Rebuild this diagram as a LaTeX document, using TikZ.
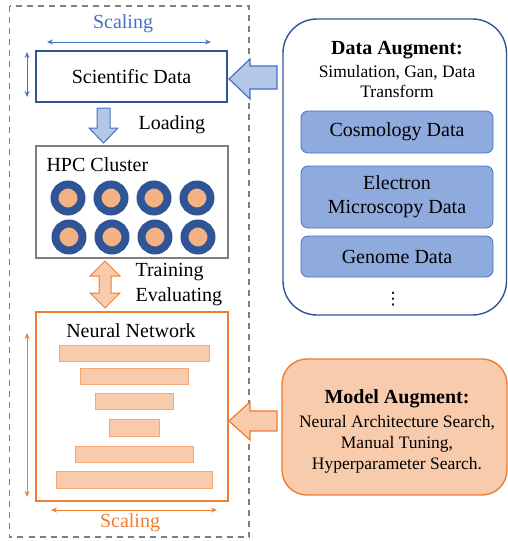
\documentclass[tikz,border=0pt]{standalone}
\usepackage{fontspec}
\setmainfont{Liberation Serif}
\newfontfamily\dvfont{DejaVu Sans}
\usetikzlibrary{arrows.meta}
\definecolor{dblue}{HTML}{2F5597}
\definecolor{mblue}{HTML}{4472C4}
\definecolor{lblue}{HTML}{B4C7E7}
\definecolor{boxblue}{HTML}{8FAADC}
\definecolor{orng}{HTML}{ED7D31}
\definecolor{lorng}{HTML}{F8CBAD}
\definecolor{corng}{HTML}{F4B183}
\definecolor{gry}{HTML}{7F7F7F}
\tikzset{
  big/.style={font=\fontsize{20}{24}\selectfont},
  mid/.style={font=\fontsize{17.5}{20}\selectfont},
  ring/.style={circle, draw=dblue, line width=8pt, fill=corng, minimum size=27pt, inner sep=0pt},
  bar/.style={draw=corng!85!orng, fill=lorng, line width=1pt, inner sep=0pt},
  databox/.style={draw=mblue, fill=boxblue, rounded corners=7pt, line width=0.8pt, minimum width=192pt, align=center, big, inner sep=0pt},
  thinarrow/.style={{Stealth[length=6pt,width=5pt]}-{Stealth[length=6pt,width=5pt]}, line width=1pt},
}
\begin{document}
\begin{tikzpicture}[x=1pt,y=-1pt]
\useasboundingbox (0,0) rectangle (508,541);

% dashed frame
\draw[gry, dashed, dash pattern=on 6pt off 5pt, line width=1.3pt] (9.5,6) rectangle (249,537);

% Scientific data
\node[big, text=mblue] (sc1) at (123,24) {Scaling};
\coordinate (sa1) at (47,42);
\coordinate (sa2) at (211,42);
\draw[thinarrow, mblue] (sa1) -- (sa2);
\node[draw=dblue, line width=1.4pt, minimum width=191pt, minimum height=51pt, big, inner sep=0pt] (sci) at (131.5,76.5) {Scientific Data};
\coordinate (va1) at (27,52);
\coordinate (va2) at (27,97);
\draw[thinarrow, mblue] (va1) -- (va2);

% Loading arrow
\draw[mblue, fill=lblue, line width=1pt] (97,108) -- (110,108) -- (110,128) -- (118,128) -- (103.5,143) -- (89,128) -- (97,128) -- cycle;
\node[big, anchor=west] (load) at (135,125) {Loading};

% HPC cluster
\node[draw=gry, line width=1.4pt, minimum width=192pt, minimum height=112pt, inner sep=0pt] (hpc) at (132,202) {};
\node[big, anchor=west] (hpct) at (43,165) {HPC Cluster};
\foreach \x/\n in {68/1,111/2,154/3,197/4}{
  \node[ring] (ca\n) at (\x,198) {};
  \node[ring] (cb\n) at (\x+1,237) {};
}

% Training arrow
\draw[orng, fill=lorng, line width=1pt] (105,261) -- (120,276) -- (111,276) -- (111,293) -- (120,293) -- (105,308) -- (90,293) -- (99,293) -- (99,276) -- (90,276) -- cycle;
\node[big, anchor=west] (train) at (132,272) {Training};
\node[big, anchor=west] (eval) at (132,297) {Evaluating};

% Neural network
\node[draw=orng, line width=1.4pt, minimum width=192pt, minimum height=189pt, inner sep=0pt] (nn) at (132,406.5) {};
\node[big] (nnt) at (131,331) {Neural Network};
\node[bar, minimum width=150pt, minimum height=16pt] (b1) at (134,353) {};
\node[bar, minimum width=108pt, minimum height=16pt] (b2) at (134,376) {};
\node[bar, minimum width=78pt, minimum height=16pt] (b3) at (134,401) {};
\node[bar, minimum width=50pt, minimum height=17pt] (b4) at (134,428) {};
\node[bar, minimum width=118pt, minimum height=16pt] (b5) at (134,454) {};
\node[bar, minimum width=156pt, minimum height=17pt] (b6) at (134,479.5) {};
\coordinate (na1) at (27,333);
\coordinate (na2) at (27,497);
\draw[thinarrow, orng] (na1) -- (na2);
\coordinate (nh1) at (51,510);
\coordinate (nh2) at (217,510);
\draw[thinarrow, orng] (nh1) -- (nh2);
\node[big, text=orng] (sc2) at (130,523) {Scaling};

% Data augment
\draw[dblue, line width=1.4pt, rounded corners=34pt] (283,19) rectangle (506.5,315);
\node[font=\fontsize{20}{24}\selectfont\bfseries] (dat) at (397,50) {Data Augment:};
\node[mid, align=center] (dal) at (397,82) {Simulation, Gan, Data\\Transform};
\node[databox, minimum height=42pt] (cos) at (397,132) {Cosmology Data};
\node[databox, minimum height=62pt] (ele) at (397,197) {Electron\\Microscopy Data};
\node[databox, minimum height=41pt] (gen) at (397,256.5) {Genome Data};
\node[font=\dvfont\fontsize{17}{20}\selectfont] (dots) at (393,299) {⋮};

% arrow into scientific data
\draw[mblue, fill=lblue, line width=1.2pt] (277,66) -- (277,89) -- (250,89) -- (250,99) -- (229,79) -- (250,59) -- (250,66) -- cycle;

% Model augment
\node[draw=orng, fill=lorng, line width=1.4pt, rounded corners=25pt, minimum width=225pt, minimum height=136pt, inner sep=0pt] (mab) at (394.5,427) {};
\node[font=\fontsize{20}{24}\selectfont\bfseries] (mat) at (397,399) {Model Augment:};
\node[font=\fontsize{17.5}{21}\selectfont, align=center] (mal) at (397,444) {Neural Architecture Search,\\Manual Tuning,\\Hyperparameter Search.};
\draw[orng, fill=lorng, line width=1.2pt] (277,411) -- (277,431) -- (250,431) -- (250,440) -- (229,421) -- (250,402) -- (250,411) -- cycle;
\end{tikzpicture}
\end{document}
